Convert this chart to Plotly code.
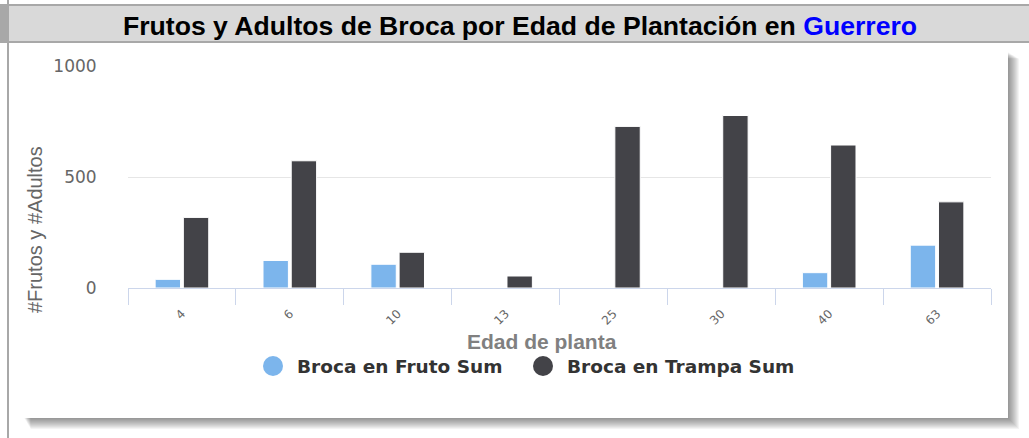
import plotly.graph_objects as go

# ---- data ----
edades = ["4", "6", "10", "13", "25", "30", "40", "63"]
broca_fruto = [39, 124, 107, 0, 0, 0, 69, 193]
broca_trampa = [318, 573, 161, 54, 728, 777, 644, 388]
series_names = ["Broca en Fruto Sum", "Broca en Trampa Sum"]
series_colors = ["#7cb5ec", "#434348"]
title_main = "Frutos y Adultos de Broca por Edad de Plantación en "
title_place = "Guerrero"
y_title = "#Frutos y #Adultos"
x_title = "Edad de planta"

W, H = 1029, 438
PL, PR, PT, PB = 128, 991, 66, 288  # plot area in pixels


def px(x):
    return (x - PL) / (PR - PL)


def py(y):
    return (PB - y) / (PB - PT)


fig = go.Figure()
for name, vals, col in zip(series_names, [broca_fruto, broca_trampa], series_colors):
    fig.add_trace(go.Bar(
        x=edades, y=vals, name=name, showlegend=False,
        marker=dict(color=col, line=dict(color="#ffffff", width=1)),
    ))

shapes = []
# shadow of the panel
for i in range(1, 12):
    shapes.append(dict(type="rect", xref="paper", yref="paper", layer="below",
                       x0=px(24 + i * 0.6), x1=px(1008 + i), y0=py(418 + i), y1=py(52 + i * 0.6),
                       fillcolor="rgba(0,0,0,0.045)", line=dict(width=0)))
# white panel
shapes.append(dict(type="rect", xref="paper", yref="paper", layer="below",
                   x0=px(20), x1=px(1008), y0=py(418), y1=py(47),
                   fillcolor="#ffffff", line=dict(width=0)))
# header bar
shapes.append(dict(type="rect", xref="paper", yref="paper", layer="above",
                   x0=px(0), x1=px(W), y0=py(42), y1=py(5),
                   fillcolor="#d9d9d9", line=dict(width=0)))
shapes.append(dict(type="rect", xref="paper", yref="paper", layer="above",
                   x0=px(0), x1=px(8), y0=py(42), y1=py(5),
                   fillcolor="#a8a8a8", line=dict(width=0)))
for yy in (5, 42):
    shapes.append(dict(type="line", xref="paper", yref="paper", layer="above",
                       x0=px(0), x1=px(W), y0=py(yy), y1=py(yy),
                       line=dict(color="#a8a8a8", width=2)))
# left vertical rule
shapes.append(dict(type="line", xref="paper", yref="paper", layer="above",
                   x0=px(8), x1=px(8), y0=py(0), y1=py(H),
                   line=dict(color="#a8a8a8", width=2)))

annotations = []
annotations.append(dict(
    xref="paper", yref="paper", x=px(520), y=py(26), xanchor="center", yanchor="middle",
    showarrow=False,
    text=title_main + "<span style='color:#0000ff'>" + title_place + "</span>",
    font=dict(family="Liberation Sans, Arial", size=26.6, color="#000000", weight="bold"),
))
annotations.append(dict(
    xref="paper", yref="paper", x=px(35), y=py(230), xanchor="center", yanchor="middle",
    showarrow=False, textangle=-90, text=y_title,
    font=dict(family="Liberation Sans, Arial", size=20, color="#666666"),
))
annotations.append(dict(
    xref="paper", yref="paper", x=px(542), y=py(341), xanchor="center", yanchor="middle",
    showarrow=False, text=x_title,
    font=dict(family="Liberation Sans, Arial", size=21, color="#808080", weight="bold"),
))
# legend (circle markers + bold labels)
legend_x = [273, 543]
for name, col, lx in zip(series_names, series_colors, legend_x):
    shapes.append(dict(type="circle", xref="paper", yref="paper", layer="above",
                       x0=px(lx - 10), x1=px(lx + 10), y0=py(376), y1=py(356),
                       fillcolor=col, line=dict(width=0)))
    annotations.append(dict(
        xref="paper", yref="paper", x=px(lx + 22), y=py(366), xanchor="left", yanchor="middle",
        showarrow=False, text=name,
        font=dict(family="DejaVu Sans", size=18.5, color="#333333", weight="bold"),
    ))

fig.update_layout(
    width=W, height=H, autosize=False,
    margin=dict(l=PL, r=W - PR, t=PT, b=H - PB, pad=0),
    paper_bgcolor="#ffffff", plot_bgcolor="rgba(0,0,0,0)",
    barmode="group", bargap=0.477, bargroupgap=0.1,
    showlegend=False,
    shapes=shapes, annotations=annotations,
    xaxis=dict(
        type="category", showgrid=False, showline=True, linecolor="#ccd6eb", linewidth=1,
        ticks="outside", ticklen=16, tickcolor="#ccd6eb", tickwidth=1, tickson="boundaries",
        tickangle=-45, ticklabelstandoff=13,
        tickfont=dict(family="DejaVu Sans", size=12, color="#666666"),
        zeroline=False, fixedrange=True,
    ),
    yaxis=dict(
        range=[0, 1000], tickvals=[0, 500, 1000], showgrid=True, gridcolor="#e6e6e6", gridwidth=1,
        zeroline=False, showline=False, ticks="outside", ticklen=27, tickcolor="rgba(0,0,0,0)",
        tickfont=dict(family="DejaVu Sans", size=17, color="#666666"), fixedrange=True,
    ),
)

fig.write_html(
    "out.html",
    config={"displayModeBar": False},
    post_script="document.body.style.margin='0';document.body.style.overflow='hidden';",
)
